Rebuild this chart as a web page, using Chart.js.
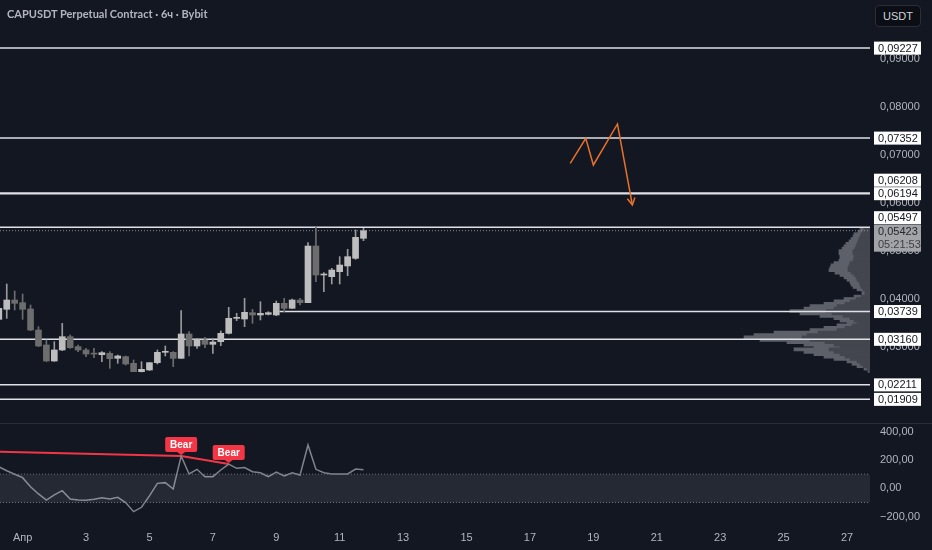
<!DOCTYPE html>
<html>
<head>
<meta charset="utf-8">
<title>CAPUSDT 6h</title>
<script src="https://cdn.jsdelivr.net/npm/chart.js@4.4.1/dist/chart.umd.min.js"></script>
<style>
  html, body { margin: 0; padding: 0; background: #131722; }
  .wrap { position: relative; width: 932px; height: 550px; overflow: hidden; background: #131722; }
  #main { position: absolute; left: 0; top: 0; }
  #osc { position: absolute; left: 0; top: 424px; }
  .sep { position: absolute; left: 0; top: 423px; width: 932px; height: 1px; background: #2a2e39; }
  .title { position: absolute; left: 7px; top: 7px; color: #b2b5be; font: bold 11px Lato, "Liberation Sans", sans-serif; white-space: nowrap; }
  .unit { position: absolute; left: 875px; top: 5px; width: 46px; height: 22px; box-sizing: border-box; border: 1px solid #2a2e39; border-radius: 4px; background: #0c0e15; color: #d1d4dc; font: 11px "Liberation Sans", sans-serif; line-height: 20px; text-align: center; }
</style>
</head>
<body>
<div class="wrap">
  <canvas id="main" width="932" height="423"></canvas>
  <div class="sep"></div>
  <canvas id="osc" width="932" height="126"></canvas>
  <div class="title">CAPUSDT Perpetual Contract · 6ч · Bybit</div>
  <div class="unit">USDT</div>
</div>
<script>
// 6h candles, x = day of April (0.25 = 31 Mar 06:00)
const candleDay = [0.25, 0.5, 0.75, 1, 1.25, 1.5, 1.75, 2, 2.25, 2.5, 2.75, 3, 3.25, 3.5, 3.75, 4,
    4.25, 4.5, 4.75, 5, 5.25, 5.5, 5.75, 6, 6.25, 6.5, 6.75, 7, 7.25, 7.5, 7.75, 8,
    8.25, 8.5, 8.75, 9, 9.25, 9.5, 9.75, 10, 10.25, 10.5, 10.75, 11, 11.25, 11.5, 11.75];

const open = [0.03576, 0.03785, 0.03979, 0.03924, 0.03792, 0.03354, 0.03042, 0.02708, 0.02938, 0.03215,
    0.03007, 0.02938, 0.02856, 0.02840, 0.02868, 0.02764, 0.02799, 0.02660, 0.02486, 0.02521,
    0.02674, 0.02889, 0.02889, 0.02764, 0.03271, 0.03021, 0.03146, 0.03056, 0.03111, 0.03285,
    0.03597, 0.03583, 0.03715, 0.03667, 0.03681, 0.03667, 0.03910, 0.03806, 0.03979, 0.03924,
    0.05104, 0.04500, 0.04465, 0.04569, 0.04688, 0.04847, 0.05264];
const close = [0.03806, 0.03979, 0.03910, 0.03785, 0.03354, 0.03021, 0.02708, 0.02938, 0.03215, 0.02986,
    0.02938, 0.02854, 0.02852, 0.02882, 0.02757, 0.02813, 0.02646, 0.02486, 0.02535, 0.02674,
    0.02889, 0.02892, 0.02764, 0.03271, 0.03021, 0.03160, 0.03056, 0.03104, 0.03285, 0.03597,
    0.03600, 0.03722, 0.03667, 0.03701, 0.03715, 0.03910, 0.03806, 0.03979, 0.03924, 0.05104,
    0.04500, 0.04503, 0.04604, 0.04708, 0.04882, 0.05285, 0.05423];
const high = [0.03826, 0.04313, 0.04167, 0.04104, 0.03875, 0.03424, 0.03146, 0.03111, 0.03493, 0.03250,
    0.03042, 0.02972, 0.02972, 0.02903, 0.02903, 0.02833, 0.02813, 0.02729, 0.02694, 0.02674,
    0.02938, 0.03021, 0.02903, 0.03757, 0.03319, 0.03181, 0.03201, 0.03181, 0.03333, 0.03826,
    0.03701, 0.04014, 0.03785, 0.03944, 0.03736, 0.03958, 0.04014, 0.04000, 0.04014, 0.05174,
    0.05493, 0.04549, 0.04639, 0.04882, 0.05035, 0.05438, 0.05472];
const low = [0.03563, 0.03597, 0.03771, 0.03576, 0.03340, 0.03007, 0.02694, 0.02700, 0.02924, 0.02972,
    0.02903, 0.02799, 0.02778, 0.02694, 0.02556, 0.02660, 0.02625, 0.02486, 0.02480, 0.02510,
    0.02646, 0.02813, 0.02590, 0.02764, 0.02813, 0.02972, 0.02986, 0.02868, 0.03028, 0.03271,
    0.03549, 0.03424, 0.03493, 0.03563, 0.03667, 0.03653, 0.03736, 0.03806, 0.03875, 0.03924,
    0.04361, 0.04153, 0.04313, 0.04313, 0.04486, 0.04826, 0.05215];

const lastPrice = 0.05423;
const countdown = '05:21:53';
const priceTicks = [0.03, 0.04, 0.05, 0.06, 0.07, 0.08, 0.09];

// horizontal levels drawn on the chart (null = from left edge)
const levels = [0.09227, 0.07352, 0.06208, 0.06194, 0.05497, 0.03739, 0.03160, 0.02211, 0.01909];
const levelFrom = [null, null, null, null, null, 9.1, null, null, null];

// orange projection sketch
const sketchDay = [18.27, 18.76, 19.00, 19.76, 20.23];
const sketchPrice = [0.06827, 0.07348, 0.06792, 0.07646, 0.05958];

// visible range volume profile
const vpPrice = [0.0545, 0.0540, 0.0535, 0.0530, 0.0525, 0.0520, 0.0515, 0.0510, 0.0505, 0.0500,
    0.0495, 0.0490, 0.0485, 0.0480, 0.0475, 0.0470, 0.0465, 0.0460, 0.0455, 0.0450,
    0.0445, 0.0440, 0.0435, 0.0430, 0.0425, 0.0420, 0.0415, 0.0410, 0.0405, 0.0400,
    0.0395, 0.0390, 0.0385, 0.0380, 0.0375, 0.0370, 0.0365, 0.0360, 0.0355, 0.0350,
    0.0345, 0.0340, 0.0335, 0.0330, 0.0325, 0.0320, 0.0315, 0.0310, 0.0305, 0.0300,
    0.0295, 0.0290, 0.0285, 0.0280, 0.0275, 0.0270, 0.0265, 0.0260, 0.0255, 0.0250];
const vpTotal = [10, 12, 16, 17, 19, 21, 24, 26, 28, 31, 31, 30, 30, 31, 36, 39, 40, 41, 35, 30,
    26, 23, 20, 19, 17, 13, 8, 8, 16, 26, 36, 46, 60, 66, 80, 70, 50, 36, 30, 23,
    33, 46, 60, 96, 116, 126, 110, 83, 66, 56, 76, 66, 56, 46, 36, 23, 18, 13, 6, 2];
const vpInner = [6, 7, 9, 10, 11, 12, 13, 14, 15, 17, 17, 16, 16, 17, 20, 21, 22, 22, 19, 16,
    14, 13, 11, 10, 9, 7, 5, 5, 9, 14, 20, 25, 33, 36, 44, 38, 27, 20, 16, 13,
    18, 25, 33, 52, 63, 68, 60, 45, 36, 30, 41, 36, 30, 25, 20, 13, 10, 7, 3, 1];

// CCI pane
const cci = [152, 124, 99, 75, 11, -40, -83, -47, -17, -76,
    -83, -85, -78, -66, -76, -64, -101, -165, -134, -54,
    35, 40, -5, 228, 101, 134, 82, 82, 129, 171,
    141, 146, 117, 110, 82, 115, 87, 110, 94, 306,
    134, 110, 101, 101, 101, 136, 131];
const cciTicks = [400, 200, 0, -200];
const cciBand = [100, -100];
const divDay = [0.25, 6, 7.5];
const divValue = [258, 228, 171];
const bearPoints = [1, 2];

const xTicks = [1, 3, 5, 7, 9, 11, 13, 15, 17, 19, 21, 23, 25, 27];
const xTickLabels = ['Апр', '3', '5', '7', '9', '11', '13', '15', '17', '19', '21', '23', '25', '27'];

const X_MIN = 0.287, X_MAX = 27.724;
const FONT = '"Liberation Sans", Arial, sans-serif';
const TXT = '#b2b5be';
const UP = '#bdbdbd', DOWN = '#6d6d6d';

const fmt = (v, d) => v.toFixed(d).replace('.', ',').replace('-', '\u2212');
const noPad = s => { s.paddingTop = 0; s.paddingBottom = 0; s.paddingLeft = 0; s.paddingRight = 0; };
const isUp = i => close[i] >= open[i];

function roundRect(ctx, x, y, w, h, r) {
    ctx.beginPath();
    ctx.moveTo(x + r, y);
    ctx.arcTo(x + w, y, x + w, y + h, r);
    ctx.arcTo(x + w, y + h, x, y + h, r);
    ctx.arcTo(x, y + h, x, y, r);
    ctx.arcTo(x, y, x + w, y, r);
    ctx.closePath();
}

const priceLabels = {
    id: 'priceLabels',
    afterDatasetsDraw(chart) {
        // arrow head on the sketch
        const sk = chart.getDatasetMeta(chart.data.datasets.length - 1).data;
        const a = sk[sk.length - 2], b = sk[sk.length - 1];
        const ang = Math.atan2(b.y - a.y, b.x - a.x);
        const c = chart.ctx;
        c.save();
        c.strokeStyle = '#e8712b';
        c.lineWidth = 1.5;
        c.beginPath();
        c.moveTo(b.x - 8 * Math.cos(ang - 0.5), b.y - 8 * Math.sin(ang - 0.5));
        c.lineTo(b.x, b.y);
        c.lineTo(b.x - 8 * Math.cos(ang + 0.5), b.y - 8 * Math.sin(ang + 0.5));
        c.stroke();
        c.restore();
    },
    afterDraw(chart) {
        const c = chart.ctx;
        const ys = chart.scales.y;
        const left = chart.chartArea.right + 4;
        const w = 47, h = 13;
        c.save();
        c.font = '11px ' + FONT;
        c.textBaseline = 'middle';

        const cy = ys.getPixelForValue(lastPrice);
        const placed = [[cy - 6, cy + 21]];
        c.fillStyle = '#a3a4a8';
        c.fillRect(left, cy - 6, w, 27);
        c.fillStyle = '#26282e';
        c.fillText(fmt(lastPrice, 5), left + 4, cy + 1);
        c.fillStyle = '#3c3e44';
        c.fillText(countdown, left + 4, cy + 14);

        const boxes = levels.map(v => ({ v, y: ys.getPixelForValue(v) }))
            .sort((p, q) => q.y - p.y);
        boxes.forEach(bx => {
            let y = bx.y;
            let moved = true;
            while (moved) {
                moved = false;
                placed.forEach(([t, bt]) => {
                    if (y + h / 2 > t && y - h / 2 < bt) { y = t - h / 2 - 0.5; moved = true; }
                });
            }
            placed.push([y - h / 2, y + h / 2]);
            c.fillStyle = '#ffffff';
            c.fillRect(left, y - h / 2, w, h);
            c.fillStyle = '#131722';
            c.fillText(fmt(bx.v, 5), left + 4, y + 0.5);
        });
        c.restore();
    }
};

const bearLabels = {
    id: 'bearLabels',
    afterDatasetsDraw(chart) {
        const c = chart.ctx;
        const pts = chart.getDatasetMeta(3).data;
        c.save();
        c.font = 'bold 10px ' + FONT;
        c.textAlign = 'center';
        c.textBaseline = 'middle';
        bearPoints.forEach(i => {
            const p = pts[i];
            const w = 32, h = 15;
            const x = p.x - w / 2, y = p.y - 4 - h;
            c.fillStyle = '#f23645';
            roundRect(c, x, y, w, h, 2);
            c.fill();
            c.beginPath();
            c.moveTo(p.x - 4, y + h);
            c.lineTo(p.x, y + h + 3);
            c.lineTo(p.x + 4, y + h);
            c.fill();
            c.fillStyle = '#ffffff';
            c.fillText('Bear', p.x, y + h / 2 + 0.5);
        });
        c.restore();
    }
};

const levelSets = levels.map((v, i) => ({
    type: 'line',
    xAxisID: 'x',
    data: [{ x: levelFrom[i] ?? X_MIN, y: v }, { x: X_MAX, y: v }],
    borderColor: '#dfe1e6',
    borderWidth: 1.5,
    pointRadius: 0,
    order: 5
}));

new Chart(document.getElementById('main'), {
    type: 'bar',
    data: {
        datasets: [
            {
                indexAxis: 'y', xAxisID: 'xvp', yAxisID: 'y',
                data: vpPrice.map((p, i) => ({ y: p, x: vpTotal[i] })),
                backgroundColor: '#5d6069', barThickness: 3, grouped: false, order: 10
            },
            {
                indexAxis: 'y', xAxisID: 'xvp', yAxisID: 'y',
                data: vpPrice.map((p, i) => ({ y: p, x: vpInner[i] })),
                backgroundColor: '#43464f', barThickness: 3, grouped: false, order: 9
            },
            ...levelSets,
            {
                type: 'line', xAxisID: 'x',
                data: [{ x: X_MIN, y: lastPrice }, { x: X_MAX, y: lastPrice }],
                borderColor: '#8a8d96', borderWidth: 1, borderDash: [1, 2], pointRadius: 0, order: 4
            },
            {
                xAxisID: 'x',
                data: candleDay.map((d, i) => ({ x: d, y: [low[i], high[i]] })),
                backgroundColor: ctx => isUp(ctx.dataIndex) ? '#9a9a9a' : DOWN,
                barThickness: 1, grouped: false, order: 3
            },
            {
                xAxisID: 'x',
                data: candleDay.map((d, i) => ({ x: d, y: [open[i], close[i]] })),
                backgroundColor: ctx => isUp(ctx.dataIndex) ? UP : DOWN,
                barThickness: 6, minBarLength: 1, grouped: false, order: 2
            },
            {
                type: 'line', xAxisID: 'x',
                data: sketchDay.map((d, i) => ({ x: d, y: sketchPrice[i] })),
                borderColor: '#e8712b', borderWidth: 1.5, pointRadius: 0, order: 1
            }
        ]
    },
    options: {
        responsive: false,
        animation: false,
        events: [],
        layout: { padding: 0, autoPadding: false },
        plugins: { legend: { display: false }, tooltip: { enabled: false } },
        scales: {
            x: { type: 'linear', display: false, min: X_MIN, max: X_MAX, offset: false, afterFit: noPad },
            xvp: { type: 'linear', display: false, min: 0, max: 870, reverse: true, offset: false, afterFit: noPad },
            y: {
                type: 'linear', position: 'right', min: 0.014167, max: 0.102292, offset: false,
                grid: { display: false, drawTicks: false, offset: false }, border: { display: false },
                afterBuildTicks: s => { s.ticks = priceTicks.map(v => ({ value: v })); },
                afterFit: s => { noPad(s); s.width = 62; },
                ticks: { color: TXT, padding: 10, font: { size: 11, family: FONT }, callback: v => fmt(v, 5) }
            }
        }
    },
    plugins: [priceLabels]
});

new Chart(document.getElementById('osc'), {
    type: 'line',
    data: {
        datasets: [
            {
                data: [{ x: X_MIN, y: cciBand[0] }, { x: X_MAX, y: cciBand[0] }],
                borderColor: '#6b6e78', borderWidth: 1, borderDash: [1, 2], pointRadius: 0,
                fill: '+1', backgroundColor: 'rgba(255,255,255,0.08)'
            },
            {
                data: [{ x: X_MIN, y: cciBand[1] }, { x: X_MAX, y: cciBand[1] }],
                borderColor: '#6b6e78', borderWidth: 1, borderDash: [1, 2], pointRadius: 0, fill: false
            },
            {
                data: candleDay.map((d, i) => ({ x: d, y: cci[i] })),
                borderColor: '#80838d', borderWidth: 1.5, pointRadius: 0, fill: false
            },
            {
                data: divDay.map((d, i) => ({ x: d, y: divValue[i] })),
                borderColor: '#f23645', borderWidth: 2, pointRadius: 0, fill: false
            }
        ]
    },
    options: {
        responsive: false,
        animation: false,
        events: [],
        layout: { padding: 0, autoPadding: false },
        plugins: { legend: { display: false }, tooltip: { enabled: false } },
        scales: {
            x: {
                type: 'linear', min: X_MIN, max: X_MAX, offset: false,
                grid: { display: false, drawTicks: false }, border: { display: false },
                afterBuildTicks: s => { s.ticks = xTicks.map(v => ({ value: v })); },
                afterFit: s => { noPad(s); s.height = 28; },
                ticks: {
                    color: TXT, padding: 9, maxRotation: 0, autoSkip: false,
                    font: { size: 11, family: FONT },
                    callback: (v, i) => xTickLabels[i]
                }
            },
            y: {
                type: 'linear', position: 'right', min: -237.9, max: 453.9,
                grid: { display: false, drawTicks: false }, border: { display: false },
                afterBuildTicks: s => { s.ticks = cciTicks.map(v => ({ value: v })); },
                afterFit: s => { noPad(s); s.width = 62; },
                ticks: { color: TXT, padding: 10, font: { size: 11, family: FONT }, callback: v => fmt(v, 2) }
            }
        }
    },
    plugins: [bearLabels]
});
</script>
</body>
</html>
